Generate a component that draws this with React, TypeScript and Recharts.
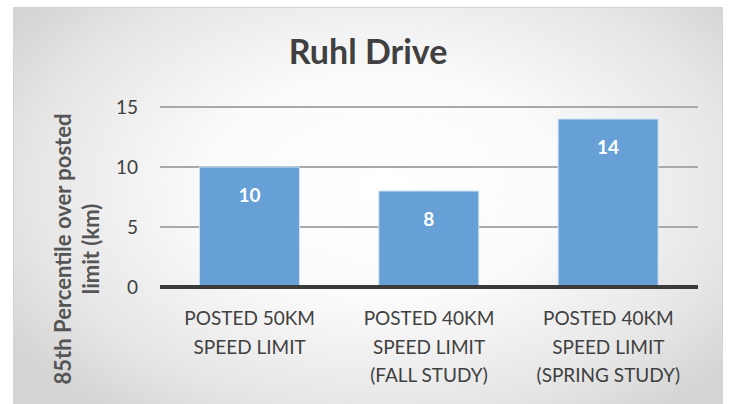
import { BarChart, Bar, XAxis, YAxis, CartesianGrid, LabelList } from "recharts";

const categories = [
  "POSTED 50KM|SPEED LIMIT",
  "POSTED 40KM|SPEED LIMIT|(FALL STUDY)",
  "POSTED 40KM|SPEED LIMIT|(SPRING STUDY)",
];
const overLimit = [10, 8, 14];
const yTicks = [0, 5, 10, 15];

const data = categories.map((name, i) => ({ name, value: overLimit[i] }));

const FONT = "Lato, 'Open Sans', sans-serif";
const BAR = "#67a0d6";
const TEXT = "#404040";

function CategoryTick({ x, y, payload }: { x?: number; y?: number; payload?: { value: string } }) {
  const lines = String(payload?.value ?? "").split("|");
  return (
    <text x={x} y={y} textAnchor="middle" fill={TEXT} fontSize={19} fontFamily={FONT}>
      {lines.map((line, i) => (
        <tspan key={i} x={x} dy={i === 0 ? 30 : 28.5}>
          {line}
        </tspan>
      ))}
    </text>
  );
}

function YTitle({ viewBox }: { viewBox?: { x: number; y: number; width: number; height: number } }) {
  const vb = viewBox ?? { x: 0, y: 0, width: 0, height: 0 };
  const cx = 77;
  const cy = vb.y + vb.height / 2 + 52;
  return (
    <text
      transform={`rotate(-90, ${cx}, ${cy})`}
      x={cx}
      y={cy}
      textAnchor="middle"
      fill="#555"
      fontSize={22}
      fontWeight={700}
      fontFamily={FONT}
    >
      <tspan x={cx} dy={-6}>85th Percentile over posted</tspan>
      <tspan x={cx} dy={28}>limit (km)</tspan>
    </text>
  );
}

export default function App() {
  return (
    <div style={{ position: "absolute", left: 0, top: 0, width: 731, height: 404, background: "#fff", overflow: "hidden" }}>
      <div
        style={{
          position: "absolute",
          left: 13,
          top: 7,
          width: 710,
          height: 400,
          boxSizing: "border-box",
          border: "1px solid #d4d4d4",
          background: "radial-gradient(ellipse 62% 70% at 52% 45%, #ffffff 0%, #fbfbfb 40%, #e6e6e6 80%, #d6d6d6 100%)",
        }}
      />
      <div
        style={{
          position: "absolute",
          left: 13,
          top: 30,
          width: 710,
          textAlign: "center",
          fontFamily: FONT,
          fontWeight: 700,
          fontSize: 34,
          color: TEXT,
        }}
      >
        Ruhl Drive
      </div>
      <div style={{ position: "absolute", left: 0, top: 0 }}>
        <BarChart
          width={731}
          height={404}
          data={data}
          margin={{ top: 107, right: 33, bottom: 0, left: 0 }}
          barCategoryGap="22%"
        >
          <CartesianGrid vertical={false} stroke="#a9a9a9" strokeWidth={2} />
          <XAxis
            dataKey="name"
            axisLine={{ stroke: "#3a3a3a", strokeWidth: 4 }}
            tickLine={false}
            tick={<CategoryTick />}
            interval={0}
            height={117}
          />
          <YAxis
            width={160}
            domain={[0, 15]}
            ticks={yTicks}
            axisLine={false}
            tickLine={false}
            tickMargin={16}
            tick={{ fill: TEXT, fontSize: 19, fontFamily: FONT }}
            label={<YTitle />}
          />
          <Bar dataKey="value" fill={BAR} stroke="#cfe2f3" strokeWidth={1} isAnimationActive={false}>
            <LabelList
              dataKey="value"
              position="insideTop"
              offset={22}
              fill="#fff"
              fontSize={19}
              fontWeight={700}
              fontFamily={FONT}
            />
          </Bar>
        </BarChart>
      </div>
    </div>
  );
}
